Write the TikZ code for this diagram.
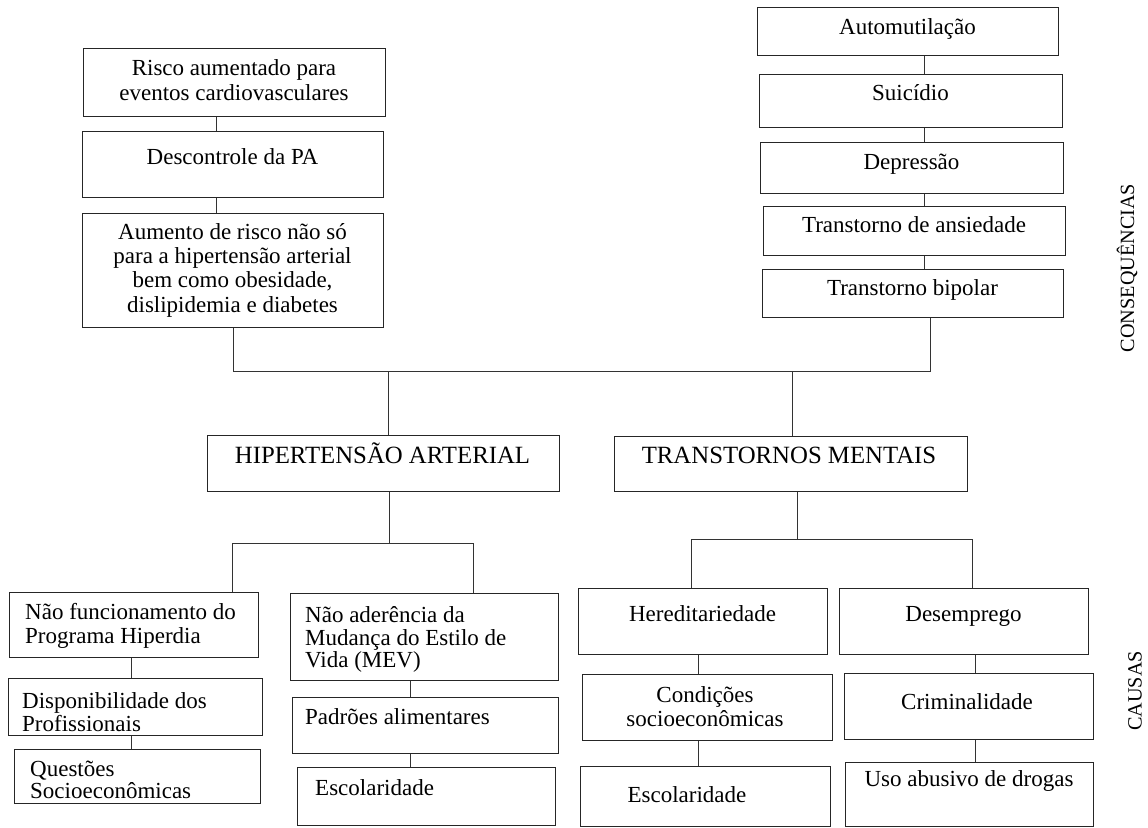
\documentclass[tikz,border=0pt]{standalone}
\usepackage{fontspec}
\setmainfont{Liberation Serif}
\usetikzlibrary{fit}
\newcommand\mkbox[5]{%
  \path (#2,#3) coordinate (#1-a) (#4,#5) coordinate (#1-b);
  \node[box, fit=(#1-a)(#1-b)] (#1) {};}
\begin{document}
\begin{tikzpicture}[x=1pt,y=-1pt,
  box/.style={draw=black!85, line width=1pt, inner sep=0pt, rectangle},
  conn/.style={draw=black!80, line width=1pt},
  txt/.style={inner sep=0pt, text height=15.6pt, text depth=5pt, align=center,
    font=\fontsize{23}{24}\selectfont},
  txtm/.style={inner sep=0pt, align=center, font=\fontsize{23}{24}\selectfont},
  txtl/.style={txt, align=left, anchor=west},
  txtml/.style={txtm, align=left, anchor=west},
  ttl/.style={inner sep=0pt, text height=16.9pt, text depth=5.5pt,
    font=\fontsize{24.8}{27}\selectfont},
  side/.style={inner sep=0pt, rotate=90, font=\fontsize{20.2}{22}\selectfont}]
\useasboundingbox (0,0) rectangle (1148,827);
\fill[white] (0,0) rectangle (1148,827);

% ---- consequences, left column
\mkbox{risco}{83}{48}{385}{116}
\mkbox{desc}{82}{131}{383}{197}
\mkbox{aum}{82}{213}{383}{327}
\node[txtm, font=\fontsize{23}{25}\selectfont] (risco-t) at (234,80.5) {Risco aumentado para\\eventos cardiovasculares};
\node[txt] (desc-t) at (232.5,159) {Descontrole da PA};
\node[txtm, font=\fontsize{23}{24.3}\selectfont] (aum-t) at (232.5,270) {Aumento de risco não só\\para a hipertensão arterial\\bem como obesidade,\\dislipidemia e diabetes};

% ---- consequences, right column
\mkbox{auto}{757}{7}{1058}{55}
\mkbox{suic}{759}{74}{1062}{127}
\mkbox{dep}{760}{142}{1063}{193}
\mkbox{ans}{763}{206}{1065}{255}
\mkbox{bip}{762}{269}{1063}{317}
\node[txt] (auto-t) at (907.5,29) {Automutilação};
\node[txt] (suic-t) at (910.5,95) {Suicídio};
\node[txt] (dep-t) at (911.5,164) {Depressão};
\node[txt] (ans-t) at (914,227) {Transtorno de ansiedade};
\node[txt] (bip-t) at (912.5,290) {Transtorno bipolar};

% ---- central problems
\mkbox{ha}{207}{435}{559}{491}
\mkbox{tm}{614}{436}{967}{491}
\node[ttl] (ha-t) at (382.5,458) {HIPERTENSÃO ARTERIAL};
\node[ttl] (tm-t) at (789,458) {TRANSTORNOS MENTAIS};

% ---- causes, hypertension
\mkbox{nfunc}{9}{592}{258}{657}
\mkbox{disp}{8}{678}{262}{735}
\mkbox{quest}{14}{749}{260}{803}
\mkbox{nader}{290}{593}{558}{680}
\mkbox{padr}{292}{697}{558}{753}
\mkbox{escA}{297}{767}{555}{825.5}
\node[txtml] (nfunc-t) at (25,626) {Não funcionamento do\\Programa Hiperdia};
\node[txtml, font=\fontsize{23}{22.5}\selectfont] (disp-t) at (22,712) {Disponibilidade dos\\Profissionais};
\node[txtml, font=\fontsize{23}{22.5}\selectfont] (quest-t) at (30,780) {Questões\\Socioeconômicas};
\node[txtml, font=\fontsize{23}{22.5}\selectfont] (nader-t) at (305,639.5) {Não aderência da\\Mudança do Estilo de\\Vida (MEV)};
\node[txtl] (padr-t) at (305,719) {Padrões alimentares};
\node[txtl] (escA-t) at (315,790) {Escolaridade};

% ---- causes, mental disorders
\mkbox{hered}{578}{588}{827}{654}
\mkbox{cond}{582}{674}{832}{740}
\mkbox{escB}{580}{766}{830}{826}
\mkbox{desemp}{839}{588}{1088}{654}
\mkbox{crim}{844}{673}{1093}{739}
\mkbox{uso}{845}{762}{1093}{826}
\node[txt] (hered-t) at (702.5,616) {Hereditariedade};
\node[txtm] (cond-t) at (705,706.5) {Condições\\socioeconômicas};
\node[txt] (escB-t) at (687,797) {Escolaridade};
\node[txt] (desemp-t) at (963.5,616) {Desemprego};
\node[txt] (crim-t) at (967,704) {Criminalidade};
\node[txt] (uso-t) at (969,781) {Uso abusivo de drogas};

% ---- side labels
\node[side] (conseq) at (1127,268) {CONSEQUÊNCIAS};
\node[side] (causas) at (1135,691) {CAUSAS};

% ---- connectors
\coordinate (xa) at (216.5,0);
\draw[conn] (risco.south -| xa) -- (desc.north -| xa);
\draw[conn] (desc.south -| xa) -- (aum.north -| xa);
\coordinate (xb) at (924,0);
\draw[conn] (auto.south -| xb) -- (suic.north -| xb);
\draw[conn] (suic.south -| xb) -- (dep.north -| xb);
\draw[conn] (dep.south -| xb) -- (ans.north -| xb);
\draw[conn] (ans.south -| xb) -- (bip.north -| xb);

\coordinate (jl) at (233,371);
\coordinate (jr) at (930,371);
\draw[conn] (aum.south -| jl) -- (jl) -- (jr) -- (bip.south -| jr);
\coordinate (xha) at (388,0);
\coordinate (xtm) at (792,0);
\draw[conn] (jl -| xha) -- (ha.north -| xha);
\draw[conn] (jl -| xtm) -- (tm.north -| xtm);

\coordinate (bl1) at (232,543);
\coordinate (bl2) at (473,543);
\coordinate (xha2) at (389,0);
\draw[conn] (ha.south -| xha2) -- (bl1 -| xha2);
\draw[conn] (nfunc.north -| bl1) -- (bl1) -- (bl2) -- (nader.north -| bl2);

\coordinate (br1) at (691,539);
\coordinate (br2) at (972,539);
\coordinate (xtm2) at (797,0);
\draw[conn] (tm.south -| xtm2) -- (br1 -| xtm2);
\draw[conn] (hered.north -| br1) -- (br1) -- (br2) -- (desemp.north -| br2);

\coordinate (xc) at (131.5,0);
\draw[conn] (nfunc.south -| xc) -- (disp.north -| xc);
\draw[conn] (disp.south -| xc) -- (quest.north -| xc);
\coordinate (xd) at (410,0);
\draw[conn] (nader.south -| xd) -- (padr.north -| xd);
\draw[conn] (padr.south -| xd) -- (escA.north -| xd);
\coordinate (xe) at (698.5,0);
\draw[conn] (hered.south -| xe) -- (cond.north -| xe);
\draw[conn] (cond.south -| xe) -- (escB.north -| xe);
\coordinate (xf) at (975,0);
\draw[conn] (desemp.south -| xf) -- (crim.north -| xf);
\draw[conn] (crim.south -| xf) -- (uso.north -| xf);
\end{tikzpicture}
\end{document}
